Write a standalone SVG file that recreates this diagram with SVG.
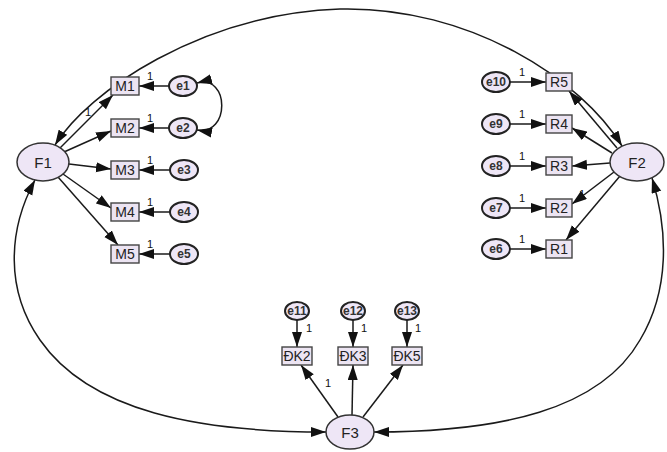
<svg xmlns="http://www.w3.org/2000/svg" width="667" height="452" viewBox="0 0 667 452">
  <style>
    .lat { fill: #EEE6F6; stroke: #333; stroke-width: 1.5; }
    .err { fill: #EEE6F6; stroke: #222; stroke-width: 2; }
    .obs { fill: #ECE4F2; stroke: #444; stroke-width: 1.4; }
    .t { font-family: "Liberation Sans", Arial, sans-serif; fill: #222; text-anchor: middle; dominant-baseline: central; }
    .lt { font-size: 15px; }
    .ot { font-size: 14px; }
    .et { font-size: 12px; font-weight: bold; fill: #333; }
    .w { font-family: "Liberation Sans", Arial, sans-serif; font-size: 11px; fill: #111; text-anchor: middle; }
    .c { fill: none; stroke: #1a1a1a; stroke-width: 1.5; }
    .arr { marker-end: url(#ah); }
    .cov { marker-start: url(#ah); marker-end: url(#ah); }
  </style>
  <defs>
    <marker id="ah" markerUnits="userSpaceOnUse" markerWidth="16" markerHeight="11" refX="15" refY="5" orient="auto-start-reverse">
      <path d="M0,0 L15,5 L0,10 z" fill="#111"/>
    </marker>
  </defs>
  <rect width="667" height="452" fill="#fff"/>

  <g id="connectors">
    <!-- covariances between factors -->
    <path class="c cov" d="M 55,145 C 88,92 200,14 340,9 C 470,6 582,80 622,146"/>
    <path class="c cov" d="M 326,432 C 200,432 90,412 40,340 C 5,290 8,230 35,180"/>
    <path class="c cov" d="M 374,432 C 500,432 600,410 640,340 C 670,290 668,230 652,178"/>
    <!-- e1 <-> e2 -->
    <path class="c cov" d="M 197,83 C 230,74 230,136 197,130"/>

    <!-- F1 loadings -->
    <line class="c arr" x1="60" y1="148" x2="113" y2="95"/>
    <line class="c arr" x1="64" y1="152" x2="111" y2="131"/>
    <line class="c arr" x1="69" y1="164" x2="111" y2="169"/>
    <line class="c arr" x1="63" y1="174" x2="111" y2="208"/>
    <line class="c arr" x1="58" y1="177" x2="118" y2="245"/>
    <!-- errors to M -->
    <line class="c arr" x1="169" y1="86" x2="139" y2="86"/>
    <line class="c arr" x1="169" y1="128" x2="139" y2="128"/>
    <line class="c arr" x1="170" y1="170" x2="139" y2="170"/>
    <line class="c arr" x1="170" y1="212" x2="139" y2="212"/>
    <line class="c arr" x1="170" y1="254" x2="139" y2="254"/>

    <!-- F2 loadings -->
    <line class="c arr" x1="617" y1="148" x2="569" y2="91"/>
    <line class="c arr" x1="612" y1="153" x2="572" y2="128"/>
    <line class="c arr" x1="610" y1="163" x2="572" y2="166"/>
    <line class="c arr" x1="614" y1="172" x2="572" y2="204"/>
    <line class="c arr" x1="620" y1="176" x2="566" y2="240"/>
    <!-- errors to R -->
    <line class="c arr" x1="510" y1="82" x2="546" y2="82"/>
    <line class="c arr" x1="510" y1="124" x2="546" y2="124"/>
    <line class="c arr" x1="510" y1="166" x2="546" y2="166"/>
    <line class="c arr" x1="510" y1="208" x2="546" y2="208"/>
    <line class="c arr" x1="510" y1="249" x2="546" y2="249"/>

    <!-- F3 loadings -->
    <line class="c arr" x1="338" y1="417" x2="301" y2="365"/>
    <line class="c arr" x1="352" y1="415" x2="353" y2="365"/>
    <line class="c arr" x1="363" y1="417" x2="403" y2="365"/>
    <!-- errors to DK -->
    <line class="c arr" x1="297" y1="320" x2="297" y2="347"/>
    <line class="c arr" x1="353" y1="320" x2="353" y2="347"/>
    <line class="c arr" x1="407" y1="320" x2="407" y2="347"/>

    <!-- fixed weights -->
    <text class="w" x="150" y="80">1</text>
    <text class="w" x="150" y="122">1</text>
    <text class="w" x="150" y="164">1</text>
    <text class="w" x="150" y="206">1</text>
    <text class="w" x="150" y="248">1</text>
    <text class="w" x="88" y="116">1</text>
    <text class="w" x="522" y="76">1</text>
    <text class="w" x="522" y="118">1</text>
    <text class="w" x="522" y="160">1</text>
    <text class="w" x="522" y="202">1</text>
    <text class="w" x="522" y="243">1</text>
    <text class="w" x="582" y="198">1</text>
    <text class="w" x="309" y="332">1</text>
    <text class="w" x="364" y="332">1</text>
    <text class="w" x="418" y="332">1</text>
    <text class="w" x="328" y="387">1</text>
  </g>

  <!-- latent factors -->
  <g id="F1"><ellipse class="lat" cx="43" cy="162" rx="26" ry="19"/><text class="t lt" x="43" y="162">F1</text></g>
  <g id="F2"><ellipse class="lat" cx="637" cy="162" rx="27" ry="19"/><text class="t lt" x="637" y="162">F2</text></g>
  <g id="F3"><ellipse class="lat" cx="350" cy="432" rx="24" ry="17"/><text class="t lt" x="350" y="432">F3</text></g>

  <!-- M indicators -->
  <g id="M1"><rect class="obs" x="111" y="77" width="28" height="18"/><text class="t ot" x="125" y="86">M1</text></g>
  <g id="M2"><rect class="obs" x="111" y="119" width="28" height="18"/><text class="t ot" x="125" y="128">M2</text></g>
  <g id="M3"><rect class="obs" x="111" y="161" width="28" height="18"/><text class="t ot" x="125" y="170">M3</text></g>
  <g id="M4"><rect class="obs" x="111" y="203" width="28" height="18"/><text class="t ot" x="125" y="212">M4</text></g>
  <g id="M5"><rect class="obs" x="111" y="245" width="28" height="18"/><text class="t ot" x="125" y="254">M5</text></g>

  <g id="e1"><ellipse class="err" cx="183" cy="86" rx="14" ry="10"/><text class="t et" x="183" y="86">e1</text></g>
  <g id="e2"><ellipse class="err" cx="183" cy="128" rx="14" ry="10"/><text class="t et" x="183" y="128">e2</text></g>
  <g id="e3"><ellipse class="err" cx="184" cy="170" rx="14" ry="10"/><text class="t et" x="184" y="170">e3</text></g>
  <g id="e4"><ellipse class="err" cx="184" cy="212" rx="14" ry="10"/><text class="t et" x="184" y="212">e4</text></g>
  <g id="e5"><ellipse class="err" cx="184" cy="254" rx="14" ry="10"/><text class="t et" x="184" y="254">e5</text></g>

  <!-- R indicators -->
  <g id="R5"><rect class="obs" x="546" y="73" width="26" height="18"/><text class="t ot" x="559" y="82">R5</text></g>
  <g id="R4"><rect class="obs" x="546" y="115" width="26" height="18"/><text class="t ot" x="559" y="124">R4</text></g>
  <g id="R3"><rect class="obs" x="546" y="157" width="26" height="18"/><text class="t ot" x="559" y="166">R3</text></g>
  <g id="R2"><rect class="obs" x="546" y="199" width="26" height="18"/><text class="t ot" x="559" y="208">R2</text></g>
  <g id="R1"><rect class="obs" x="546" y="240" width="26" height="18"/><text class="t ot" x="559" y="249">R1</text></g>

  <g id="e10"><ellipse class="err" cx="496" cy="82" rx="14" ry="10"/><text class="t et" x="496" y="82">e10</text></g>
  <g id="e9"><ellipse class="err" cx="496" cy="124" rx="14" ry="10"/><text class="t et" x="496" y="124">e9</text></g>
  <g id="e8"><ellipse class="err" cx="496" cy="166" rx="14" ry="10"/><text class="t et" x="496" y="166">e8</text></g>
  <g id="e7"><ellipse class="err" cx="496" cy="208" rx="14" ry="10"/><text class="t et" x="496" y="208">e7</text></g>
  <g id="e6"><ellipse class="err" cx="496" cy="249" rx="14" ry="10"/><text class="t et" x="496" y="249">e6</text></g>

  <!-- DK indicators -->
  <g id="DK2"><rect class="obs" x="282" y="347" width="30" height="18"/><text class="t ot" x="297" y="356">ĐK2</text></g>
  <g id="DK3"><rect class="obs" x="338" y="347" width="30" height="18"/><text class="t ot" x="353" y="356">ĐK3</text></g>
  <g id="DK5"><rect class="obs" x="392" y="347" width="30" height="18"/><text class="t ot" x="407" y="356">ĐK5</text></g>

  <g id="e11"><ellipse class="err" cx="297" cy="311" rx="12" ry="9"/><text class="t et" x="297" y="311">e11</text></g>
  <g id="e12"><ellipse class="err" cx="353" cy="311" rx="12" ry="9"/><text class="t et" x="353" y="311">e12</text></g>
  <g id="e13"><ellipse class="err" cx="407" cy="311" rx="12" ry="9"/><text class="t et" x="407" y="311">e13</text></g>
</svg>
